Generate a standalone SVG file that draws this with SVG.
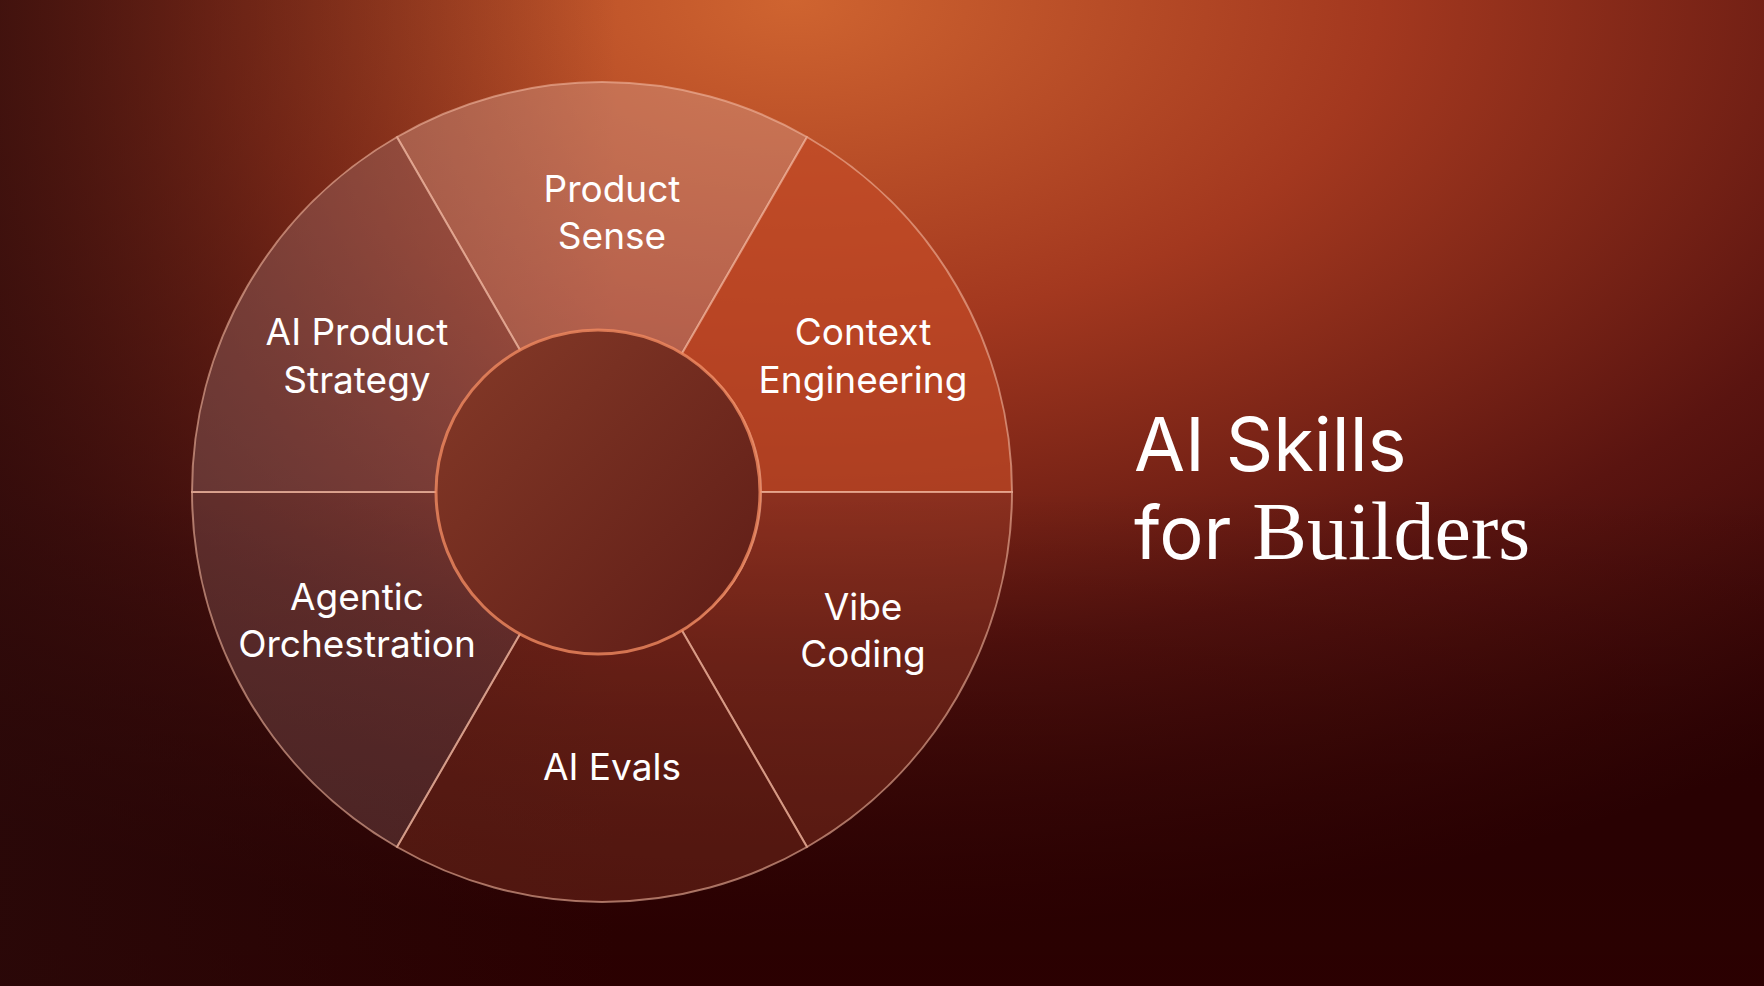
<svg xmlns="http://www.w3.org/2000/svg" width="1764" height="986" viewBox="0 0 1764 986">
<defs>
<radialGradient id="bg" cx="0.45" cy="0" r="0.95" fx="0.45" fy="0">
<stop offset="0" stop-color="#cf6430"/>
<stop offset="0.35" stop-color="#a3381f"/>
<stop offset="0.7" stop-color="#5a1410"/>
<stop offset="1" stop-color="#2e0204"/>
</radialGradient>
<linearGradient id="shade" x1="0" y1="0" x2="0" y2="1">
<stop offset="0.5" stop-color="#1a0000" stop-opacity="0"/>
<stop offset="1" stop-color="#2a0000" stop-opacity="0.8"/>
</linearGradient>
<linearGradient id="lshade" x1="0" y1="0" x2="1" y2="0">
<stop offset="0" stop-color="#2a0a0a" stop-opacity="0.75"/>
<stop offset="0.35" stop-color="#2a0a0a" stop-opacity="0"/>
</linearGradient>
<linearGradient id="inner" x1="0" y1="0" x2="1" y2="1">
<stop offset="0" stop-color="#853a28"/>
<stop offset="1" stop-color="#5e1c16"/>
</linearGradient>
<style>
.seg{stroke:#f2b8a0;stroke-width:2;stroke-opacity:0.6}
.lbl{font-family:"Inter","DejaVu Sans",sans-serif;font-size:37px;fill:#fff;text-anchor:middle}
</style>
</defs>
<rect width="1764" height="986" fill="url(#bg)"/>
<rect width="1764" height="986" fill="url(#shade)"/>
<rect width="1764" height="986" fill="url(#lshade)"/>
<g id="wheel">
<path class="seg" d="M397,137 A410,410 0 0 1 807,137 L681.5,354.3 A159,159 0 0 0 522.5,354.3 Z" fill="#d4a090" fill-opacity="0.4"/>
<path class="seg" d="M807,137 A410,410 0 0 1 1012,492 L761,492 A159,159 0 0 0 681.5,354.3 Z" fill="#c24a26" fill-opacity="0.7"/>
<path class="seg" d="M1012,492 A410,410 0 0 1 807,847 L681.5,629.7 A159,159 0 0 0 761,492 Z" fill="#a8442e" fill-opacity="0.35"/>
<path class="seg" d="M807,847 A410,410 0 0 1 397,847 L522.5,629.7 A159,159 0 0 0 681.5,629.7 Z" fill="#a8442e" fill-opacity="0.3"/>
<path class="seg" d="M397,847 A410,410 0 0 1 192,492 L443,492 A159,159 0 0 0 522.5,629.7 Z" fill="#a07878" fill-opacity="0.28"/>
<path class="seg" d="M192,492 A410,410 0 0 1 397,137 L522.5,354.3 A159,159 0 0 0 443,492 Z" fill="#a07878" fill-opacity="0.35"/>
<circle cx="598" cy="492" r="162" fill="url(#inner)" stroke="#f08a60" stroke-width="3" stroke-opacity="0.8"/>
</g>
<g id="product-sense"><text class="lbl" x="612" y="202">Product</text><text class="lbl" x="612" y="249">Sense</text></g>
<g id="context-engineering"><text class="lbl" x="863" y="345">Context</text><text class="lbl" x="863" y="393">Engineering</text></g>
<g id="vibe-coding"><text class="lbl" x="863" y="620">Vibe</text><text class="lbl" x="863" y="667">Coding</text></g>
<g id="ai-evals"><text class="lbl" x="612" y="780">AI Evals</text></g>
<g id="agentic-orchestration"><text class="lbl" x="357" y="610">Agentic</text><text class="lbl" x="357" y="657">Orchestration</text></g>
<g id="ai-product-strategy"><text class="lbl" x="357" y="345">AI Product</text><text class="lbl" x="357" y="393">Strategy</text></g>
<g id="connectors"></g>
<g id="title" fill="#fff" font-size="74">
<text x="1134" y="471" font-family="Inter,DejaVu Sans,sans-serif">AI Skills</text>
<text x="1134" y="559"><tspan font-family="Inter,DejaVu Sans,sans-serif">for </tspan><tspan font-family="Liberation Serif,serif" font-size="82">Builders</tspan></text>
</g>
</svg>
